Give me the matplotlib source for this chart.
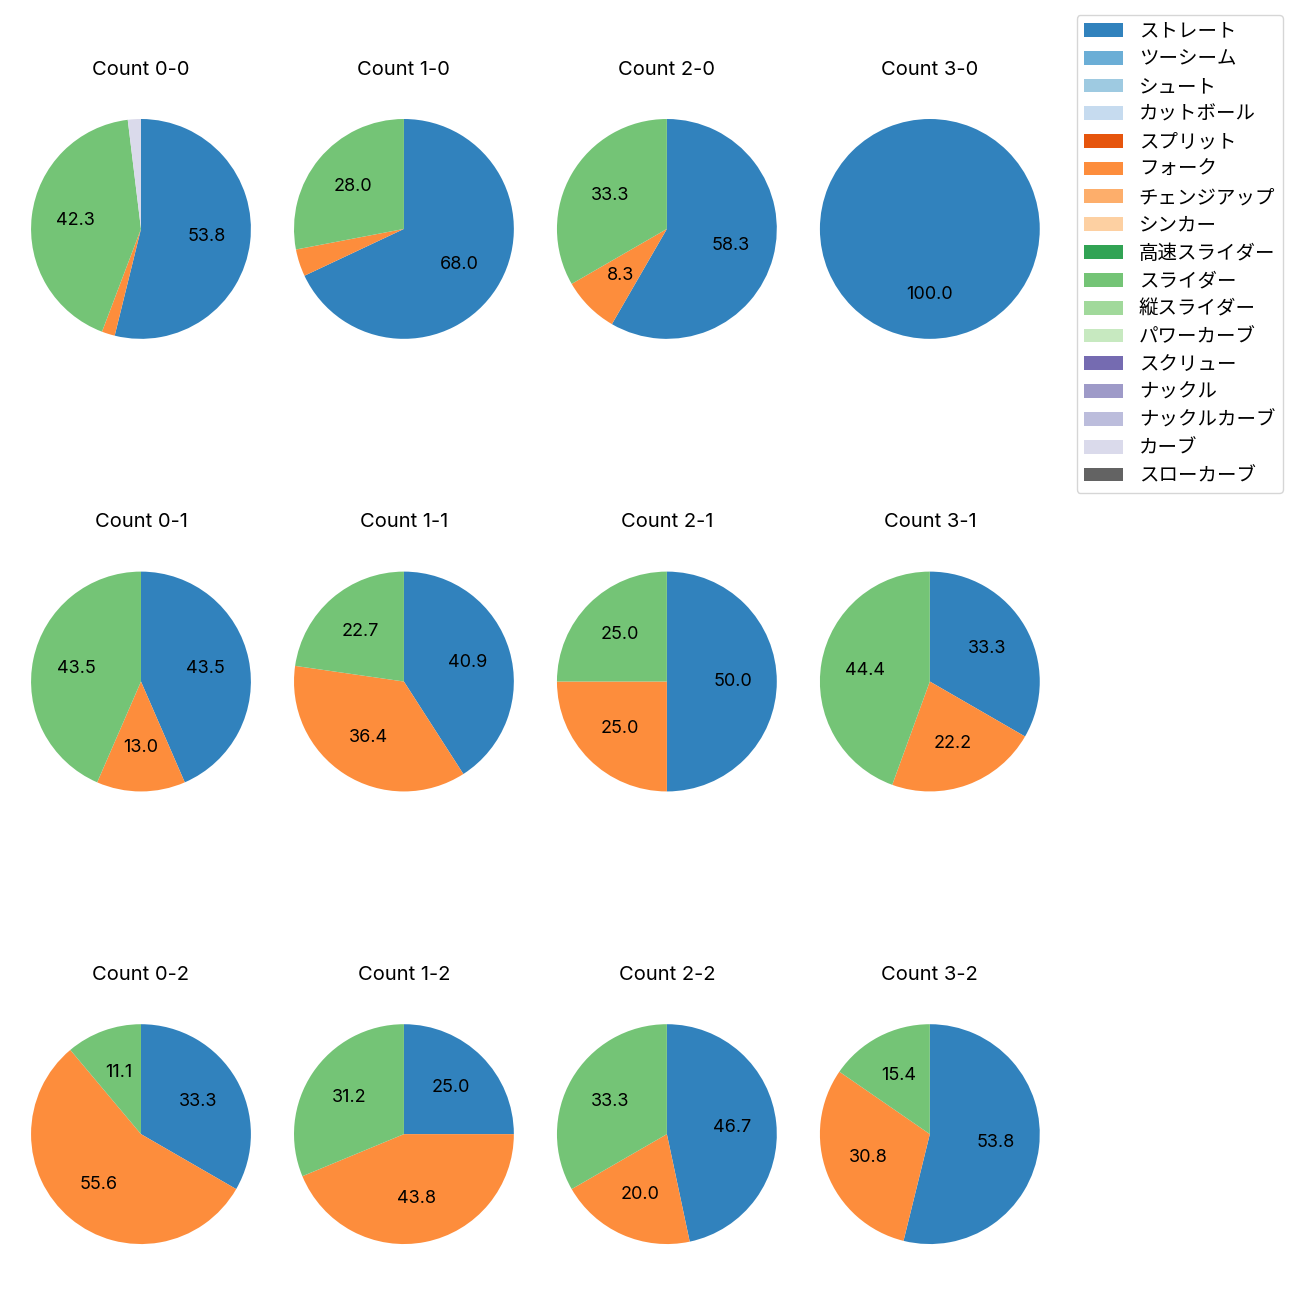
import numpy as np
import matplotlib
matplotlib.use("Agg")
import matplotlib.pyplot as plt
from matplotlib.patches import Patch

plt.rcParams['font.family'] = ['Inter', 'Noto Sans CJK JP', 'DejaVu Sans']

pitch_types = ['ストレート', 'ツーシーム', 'シュート', 'カットボール', 'スプリット', 'フォーク',
               'チェンジアップ', 'シンカー', '高速スライダー', 'スライダー', '縦スライダー',
               'パワーカーブ', 'スクリュー', 'ナックル', 'ナックルカーブ', 'カーブ', 'スローカーブ']

# pitch counts per ball-strike count
counts = ['0-0', '1-0', '2-0', '3-0',
          '0-1', '1-1', '2-1', '3-1',
          '0-2', '1-2', '2-2', '3-2']
straight = [28, 17, 7, 1, 10, 9, 2, 3, 3, 4, 7, 7]
fork     = [1, 1, 1, 0, 3, 8, 1, 2, 5, 7, 3, 4]
slider   = [22, 7, 4, 0, 10, 5, 1, 4, 1, 5, 5, 2]
curve    = [1, 0, 0, 0, 0, 0, 0, 0, 0, 0, 0, 0]

cmap = plt.get_cmap('tab20c')
colors = {name: cmap(i) for i, name in enumerate(pitch_types)}

fig, axs = plt.subplots(3, 4, figsize=(13, 13), dpi=100)
fig.subplots_adjust(left=0.0027, right=0.821, bottom=0.0219, top=0.9296,
                    wspace=-0.0436, hspace=0.647)

names = ['ストレート', 'フォーク', 'スライダー', 'カーブ']
for i, ax in enumerate(axs.flatten()):
    vals = [straight[i], fork[i], slider[i], curve[i]]
    v = [x for x in vals if x > 0]
    c = [colors[n] for n, x in zip(names, vals) if x > 0]
    ax.pie(v, colors=c, startangle=90, counterclock=False,
           autopct=lambda p: f'{p:.1f}' if p >= 5 else '',
           textprops={'fontsize': 13})
    ax.set_title(f'Count {counts[i]}', fontsize=14.5, pad=12)

handles = [Patch(facecolor=colors[n], label=n) for n in pitch_types]
fig.legend(handles=handles, loc='upper right', bbox_to_anchor=(1 - 17 / 1300, 1 - 15 / 1300),
           borderaxespad=0, fontsize=14)

plt.savefig('out.png')
